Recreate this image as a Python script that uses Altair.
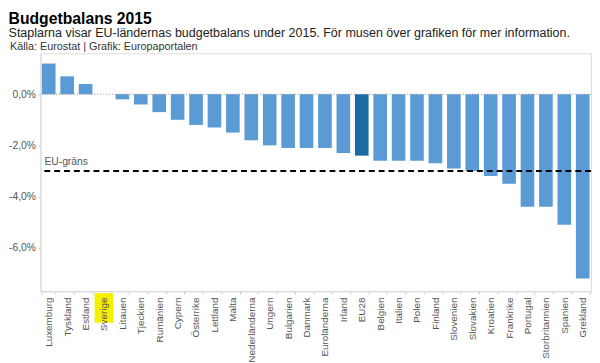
import altair as alt
import pandas as pd

countries = ["Luxemburg", "Tyskland", "Estland", "Sverige", "Litauen", "Tjeckien",
             "Rumänien", "Cypern", "Österrike", "Lettland", "Malta", "Nederländerna",
             "Ungern", "Bulgarien", "Danmark", "Euroländerna", "Irland", "EU28",
             "Belgien", "Italien", "Polen", "Finland", "Slovenien", "Slovakien",
             "Kroatien", "Frankrike", "Portugal", "Storbritannien", "Spanien", "Grekland"]
balance = [1.2, 0.7, 0.4, 0.0, -0.2, -0.4, -0.7, -1.0, -1.2, -1.3, -1.5, -1.8,
           -2.0, -2.1, -2.1, -2.1, -2.3, -2.4, -2.6, -2.6, -2.6, -2.7, -2.9, -3.0,
           -3.2, -3.5, -4.4, -4.4, -5.1, -7.2]
groups = ["Sverige" if c == "Sverige" else ("EU28" if c == "EU28" else "Övriga") for c in countries]
eu_limit = -3.0
y_ticks = [-6, -4, -2, 0]

FONT = "Liberation Sans"
W, H = 560, 242

df = pd.DataFrame({"land": countries, "balans": balance, "grupp": groups})

x_enc = alt.X("land:N", sort=None, title=None,
              scale=alt.Scale(paddingInner=0.26, paddingOuter=0.08),
              axis=alt.Axis(labelAngle=270, labelFont=FONT, labelFontSize=10,
                            labelColor="#555555", labelPadding=3, tickBand="extent",
                            tickSize=3, tickColor="#cccccc", domainColor="#d8d8d8",
                            zindex=1, labelOverlap=False))
y_scale = alt.Scale(domain=[-7.7, 1.6], nice=False, zero=False)
y_axis = alt.Axis(values=y_ticks, grid=False, labelFont=FONT, labelFontSize=10.5,
                  labelColor="#555555", tickSize=3, tickColor="#cccccc",
                  domainColor="#d8d8d8", labelPadding=2,
                  labelExpr="(datum.value < 0 ? '-' : '') + replace(format(abs(datum.value), '.1f'), '.', ',') + '%'")

base = alt.Chart(df)

bars = base.mark_bar().encode(
    x=x_enc,
    y=alt.Y("balans:Q", scale=y_scale, axis=y_axis, title=None),
    color=alt.Color("grupp:N", legend=None,
                    scale=alt.Scale(domain=["Övriga", "EU28", "Sverige"],
                                    range=["#5b9bd5", "#1a6aa6", "#f4e9a0"])),
)

highlight = base.transform_filter(alt.datum.land == "Sverige").mark_bar(
    color="#f4f000", size=19).encode(
    x=x_enc, y=alt.value(H + 2), y2=alt.value(H + 32))

zero_line = alt.Chart(pd.DataFrame({"v": [0]})).mark_rule(
    color="#888888", strokeDash=[1, 2], strokeWidth=1).encode(y=alt.Y("v:Q", scale=y_scale))

limit_df = pd.DataFrame({"v": [eu_limit], "t": ["EU-gräns"]})
limit_line = alt.Chart(limit_df).mark_rule(
    color="#000000", strokeDash=[6, 4], strokeWidth=2).encode(y=alt.Y("v:Q", scale=y_scale))
limit_text = alt.Chart(limit_df).mark_text(
    align="left", baseline="alphabetic", dy=-6, font=FONT, fontSize=10.5, color="#555555").encode(
    x=alt.value(4), y=alt.Y("v:Q", scale=y_scale), text="t:N")

source = alt.Chart(pd.DataFrame({"t": ["Källa: Eurostat | Grafik: Europaportalen"]})).mark_text(
    align="left", baseline="alphabetic", font=FONT, fontSize=11, color="#333333").encode(
    x=alt.value(-31), y=alt.value(-3), text="t:N")

chart = alt.layer(bars, highlight, zero_line, limit_line, limit_text, source).properties(
    width=W, height=H,
    title=alt.TitleParams(
        text="Budgetbalans 2015",
        subtitle=["Staplarna visar EU-ländernas budgetbalans under 2015. För musen över grafiken för mer information."],
        anchor="start", frame="bounds", font=FONT, fontSize=16, fontWeight="bold", color="#000000",
        subtitleFont=FONT, subtitleFontSize=12.7, subtitleColor="#222222", subtitlePadding=0,
        offset=2),
).configure_view(stroke=None).configure(padding=0, background="white")

chart.save("out.html", embed_options={"renderer": "svg", "actions": False})
